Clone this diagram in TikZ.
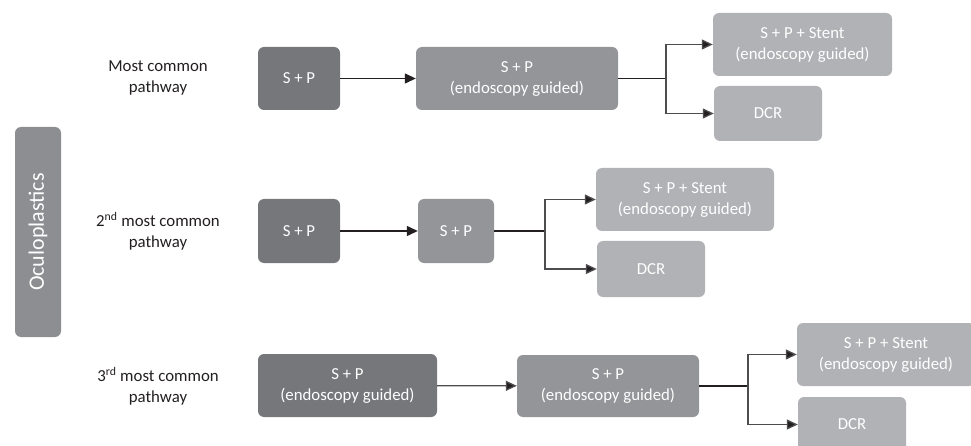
\documentclass[tikz,border=0pt]{standalone}
\usepackage{fontspec}
\setmainfont{Carlito}
\usetikzlibrary{arrows.meta}
\definecolor{darkbox}{HTML}{76777B}
\definecolor{midbox}{HTML}{939598}
\definecolor{lightbox}{HTML}{B1B2B5}
\definecolor{sidebox}{HTML}{8D8E91}
\definecolor{ink}{HTML}{231F20}
\definecolor{branchink}{HTML}{4D4D4F}
\tikzset{
  box/.style={rounded corners=6pt, inner sep=0pt, text=white, align=center,
     font=\fontsize{16.8}{21}\selectfont},
  dbox/.style={box, fill=darkbox},
  mbox/.style={box, fill=midbox},
  lbox/.style={box, fill=lightbox},
  lbl/.style={align=center, text=ink, inner sep=0pt, font=\fontsize{16.8}{21}\selectfont},
  trunk/.style={draw=ink, line width=1.3pt},
  arr/.style={draw=branchink, line width=1.3pt, -{Triangle[length=11pt,width=10pt,fill=ink]}},
}
\begin{document}
\begin{tikzpicture}[x=1pt,y=-1pt]
\useasboundingbox (0,0) rectangle (971,446);
\clip (0,0) rectangle (971,446);
% side label
\node[box, fill=sidebox, minimum width=46pt, minimum height=210pt] (side) at (38,232) {};
\node[rotate=90, text=white, inner sep=0pt, font=\fontsize{22}{26}\selectfont] (sidetext) at (side.center) {Oculoplastics};
% row labels
\node[lbl] (l1) at (158,78) {Most common\\pathway};
\node[lbl] (l2) at (158,231) {2\textsuperscript{nd} most common\\pathway};
\node[lbl] (l3) at (158,386) {3\textsuperscript{rd} most common\\pathway};
% row 1
\node[dbox, minimum width=82pt, minimum height=63pt] (a1) at (299,78.5) {S + P};
\node[mbox, minimum width=202pt, minimum height=63pt] (a2) at (517,78.5) {S + P\\(endoscopy guided)};
\node[lbox, minimum width=179pt, minimum height=63pt] (a3) at (802.5,44.5) {S + P + Stent\\(endoscopy guided)};
\node[lbox, minimum width=108pt, minimum height=55pt] (a4) at (768,113.5) {DCR};
\coordinate (a5) at (666,78.5);
% row 2
\node[dbox, minimum width=82pt, minimum height=64pt] (b1) at (299,231) {S + P};
\node[mbox, minimum width=76pt, minimum height=64pt] (b2) at (456,231) {S + P};
\node[lbox, minimum width=178pt, minimum height=63pt] (b3) at (685,199.5) {S + P + Stent\\(endoscopy guided)};
\node[lbox, minimum width=108pt, minimum height=56pt] (b4) at (651,269) {DCR};
\coordinate (b5) at (545,231);
% row 3
\node[dbox, minimum width=179pt, minimum height=63pt] (c1) at (347.5,385.5) {S + P\\(endoscopy guided)};
\node[mbox, minimum width=182pt, minimum height=62pt] (c2) at (608,386) {S + P\\(endoscopy guided)};
\node[lbox, minimum width=178pt, minimum height=63pt] (c3) at (886,354.5) {S + P + Stent\\(endoscopy guided)};
\node[lbox, minimum width=108pt, minimum height=55pt] (c4) at (852,424.5) {DCR};
\coordinate (c5) at (748,386);
% connectors
\draw[arr, draw=ink] (a1) -- (a2);
\draw[trunk] (a2.east) -- (a5);
\draw[arr] (a5) |- (a3);
\draw[arr] (a5) |- (a4);
\draw[arr, draw=ink] (b1) -- (b2);
\draw[trunk] (b2.east) -- (b5);
\draw[arr] (b5) |- (b3);
\draw[arr] (b5) |- (b4);
\draw[arr] (c1) -- (c2);
\draw[trunk] (c2.east) -- (c5);
\draw[arr] (c5) |- (c3);
\draw[arr] (c5) |- (c4);
\end{tikzpicture}
\end{document}
